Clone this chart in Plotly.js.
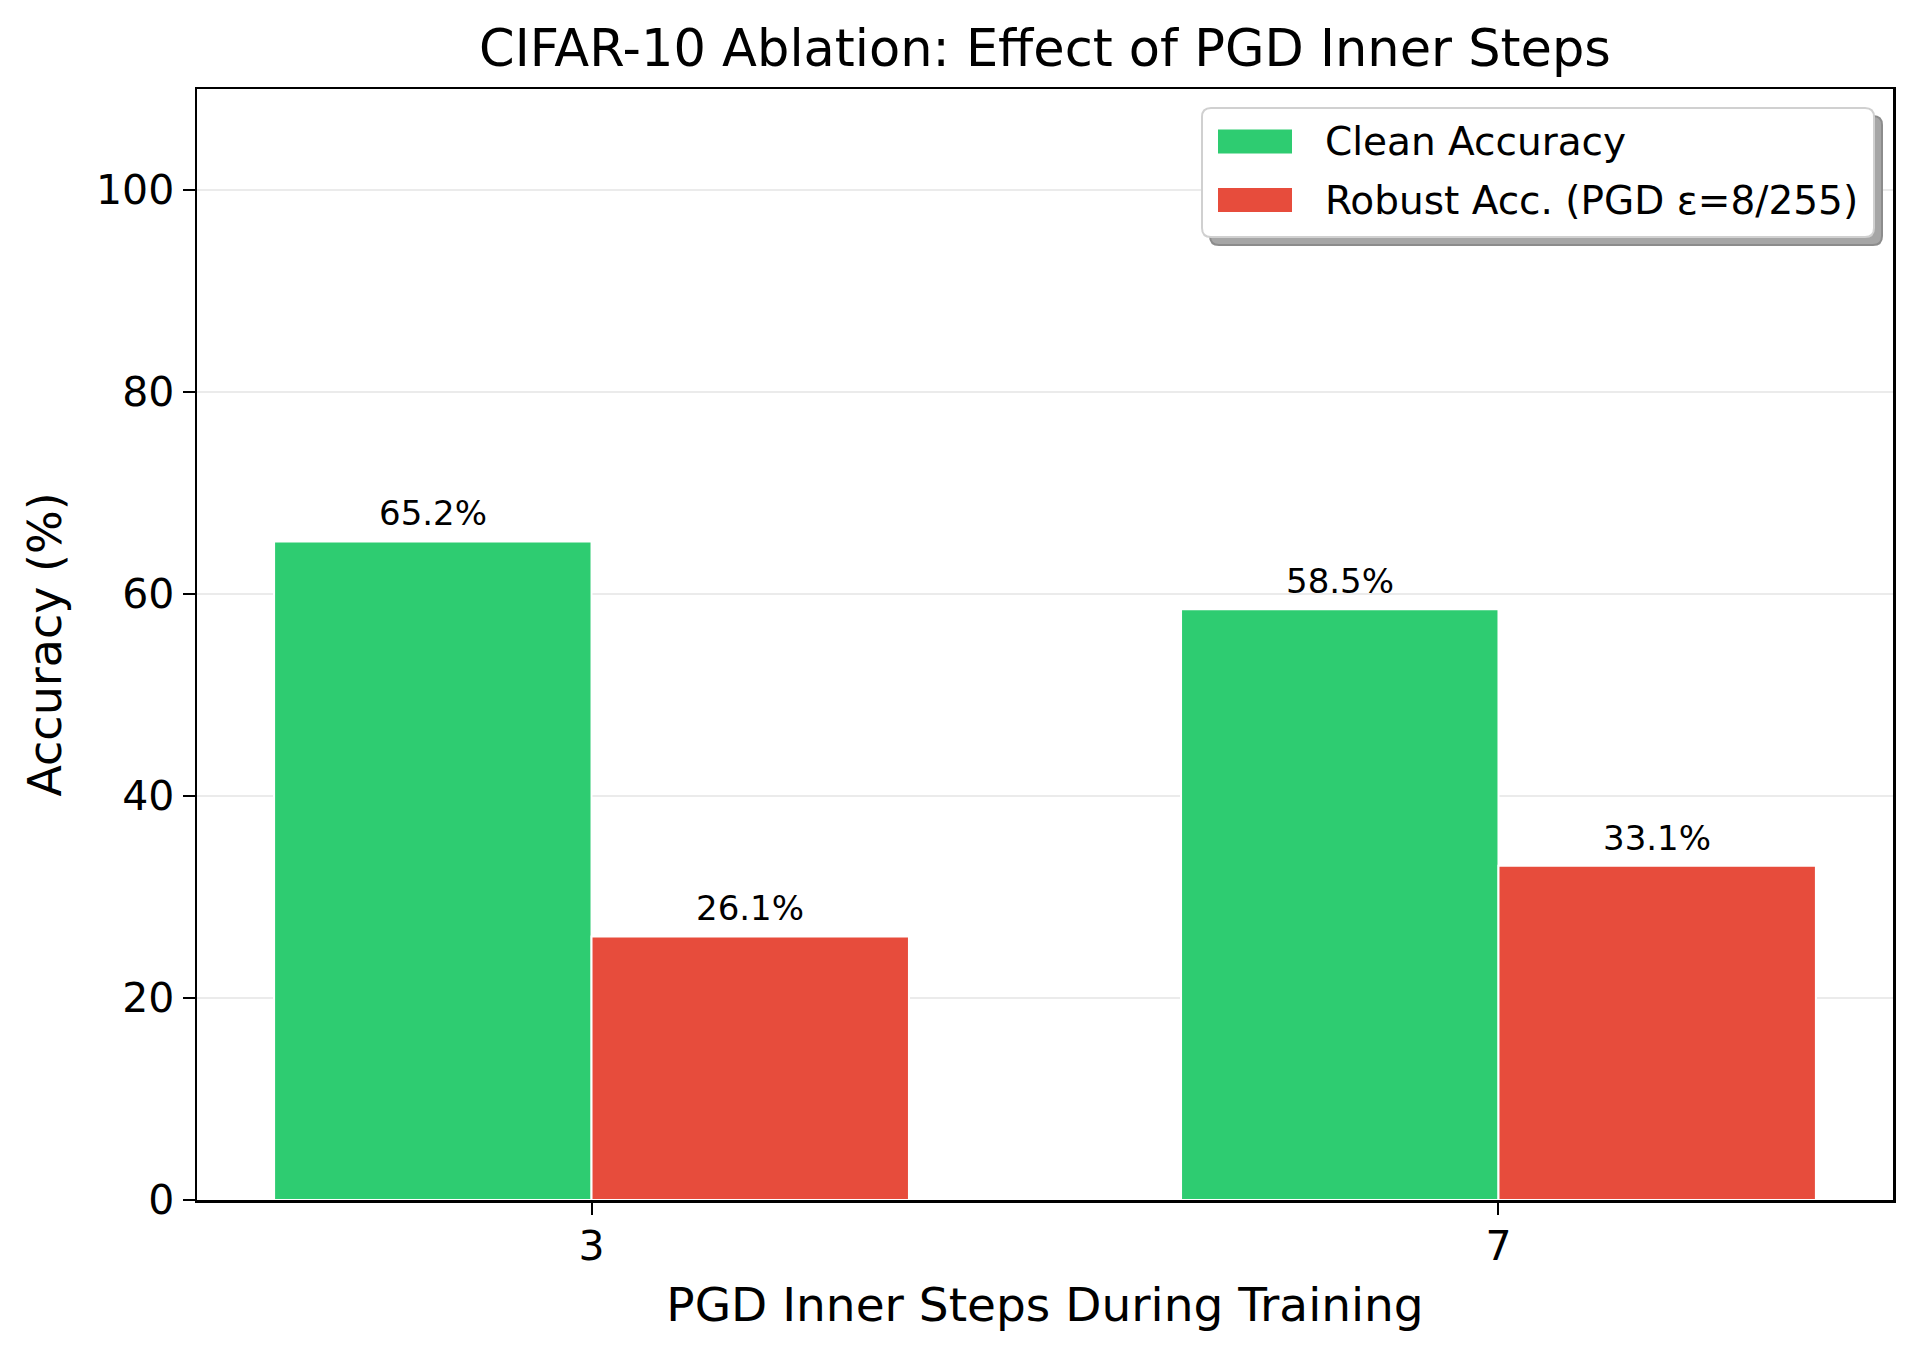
<!DOCTYPE html>
<html><head><meta charset="utf-8">
<script src="https://cdn.plot.ly/plotly-3.0.1.min.js"></script>
<style>html,body{margin:0;padding:0;background:#fff}</style>
</head><body><div id="chart" style="width:1920px;height:1358px"></div>
<script>
const categories = ['3', '7'];
const seriesNames = ['Clean Accuracy', 'Robust Acc. (PGD ε=8/255)'];
const cleanAcc = [65.2, 58.5];
const robustAcc = [26.1, 33.1];
const yTicks = [0, 20, 40, 60, 80, 100];
const titleText = 'CIFAR-10 Ablation: Effect of PGD Inner Steps';
const xTitle = 'PGD Inner Steps During Training';
const yTitle = 'Accuracy (%)';

const colors = ['#2ecc71', '#e74c3c'];
const FONT = 'DejaVu Sans, sans-serif';
const W = 1920, H = 1358, L = 197, R = 1893, T = 89, B = 1200;
const fx = p => (p - L) / (R - L);
const fy = p => (B - p) / (B - T);

const xs = categories.map((c, i) => i);
const series = [cleanAcc, robustAcc];

const traces = series.map((vals, k) => ({
  type: 'bar', x: xs, y: vals, name: seriesNames[k],
  marker: {color: colors[k], line: {color: '#ffffff', width: 2}},
  hoverinfo: 'skip'
}));

const annotations = [];
series.forEach((vals, k) => {
  vals.forEach((v, i) => {
    annotations.push({
      x: i + (k === 0 ? -0.175 : 0.175), y: v, xref: 'x', yref: 'y',
      text: v.toFixed(1) + '%', showarrow: false, yanchor: 'bottom', yshift: 6,
      font: {family: FONT, size: 34, color: '#000'}
    });
  });
});

function rr(x0, y0, x1, y1, r) {
  const P = (x, y) => fx(x) + ',' + fy(y);
  return 'M' + P(x0 + r, y0) + ' L' + P(x1 - r, y0) + ' Q' + P(x1, y0) + ' ' + P(x1, y0 + r) +
    ' L' + P(x1, y1 - r) + ' Q' + P(x1, y1) + ' ' + P(x1 - r, y1) +
    ' L' + P(x0 + r, y1) + ' Q' + P(x0, y1) + ' ' + P(x0, y1 - r) +
    ' L' + P(x0, y0 + r) + ' Q' + P(x0, y0) + ' ' + P(x0 + r, y0) + ' Z';
}
const LG = {x0: 1202, y0: 108, x1: 1874, y1: 237, r: 9, sh: 8};
const shapes = [
  {type: 'path', xref: 'paper', yref: 'paper', path: rr(LG.x0 + LG.sh, LG.y0 + LG.sh, LG.x1 + LG.sh, LG.y1 + LG.sh, LG.r),
   fillcolor: '#a6a6a6', line: {color: '#8c8c8c', width: 2}},
  {type: 'path', xref: 'paper', yref: 'paper', path: rr(LG.x0, LG.y0, LG.x1, LG.y1, LG.r),
   fillcolor: '#ffffff', line: {color: '#d0d0d0', width: 2}}
];
const rowY = [141.5, 200];
seriesNames.forEach((nm, k) => {
  shapes.push({type: 'rect', xref: 'paper', yref: 'paper',
    x0: fx(1218), x1: fx(1292), y0: fy(rowY[k] - 12), y1: fy(rowY[k] + 12),
    fillcolor: colors[k], line: {width: 0}});
  annotations.push({xref: 'paper', yref: 'paper', x: fx(1323), y: fy(rowY[k]),
    xanchor: 'left', yanchor: 'middle', text: nm, showarrow: false,
    font: {family: FONT, size: 39, color: '#000'}});
});

const layout = {
  width: W, height: H,
  margin: {l: L, r: W - R, t: T, b: H - B, pad: 0},
  paper_bgcolor: '#fff', plot_bgcolor: '#fff',
  font: {family: FONT, color: '#000'},
  showlegend: false,
  barmode: 'group', bargap: 0.3, bargroupgap: 0,
  title: {text: titleText, font: {family: FONT, size: 51, color: '#000'},
    x: 0.5, xref: 'paper', y: 1 - 48.5 / H, yref: 'container', yanchor: 'middle'},
  xaxis: {
    range: [-0.435, 1.435], tickmode: 'array', tickvals: xs, ticktext: categories,
    ticks: 'outside', ticklen: 12, tickwidth: 2, tickcolor: '#000',
    showline: true, mirror: true, linecolor: '#000', linewidth: 2.5,
    showgrid: false, zeroline: false, ticklabelstandoff: -4,
    tickfont: {family: FONT, size: 41, color: '#000'},
    title: {text: xTitle, font: {family: FONT, size: 47, color: '#000'}, standoff: 20}
  },
  yaxis: {
    range: [0, 110], tickmode: 'array', tickvals: yTicks,
    ticks: 'outside', ticklen: 12, tickwidth: 2, tickcolor: '#000',
    showline: true, mirror: true, linecolor: '#000', linewidth: 2.5,
    showgrid: true, gridcolor: '#ebebeb', gridwidth: 2, zeroline: false,
    tickfont: {family: FONT, size: 41, color: '#000'},
    title: {text: yTitle, font: {family: FONT, size: 46, color: '#000'}, standoff: 20}
  },
  shapes: shapes,
  annotations: annotations
};

Plotly.newPlot('chart', traces, layout, {displayModeBar: false, staticPlot: true});
</script>
</body></html>
